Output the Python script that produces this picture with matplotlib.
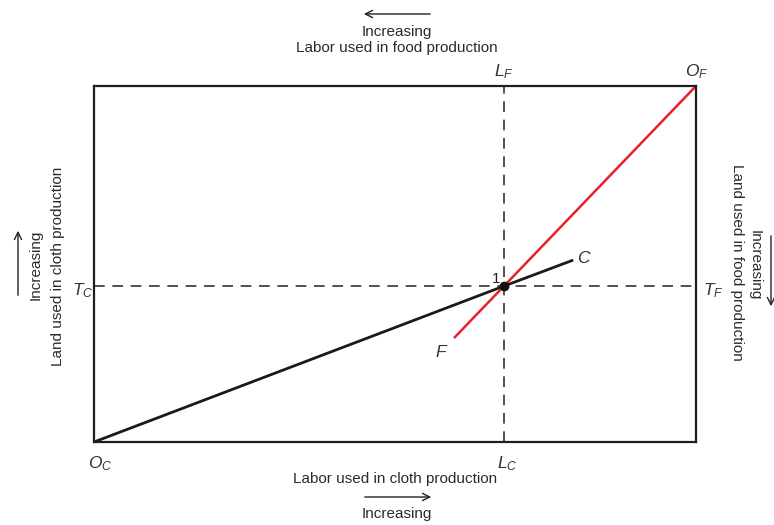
import matplotlib
matplotlib.use("Agg")
import matplotlib.pyplot as plt

plt.rcParams['font.family'] = ['Liberation Sans', 'DejaVu Sans']
plt.rcParams['mathtext.fontset'] = 'custom'
plt.rcParams['mathtext.it'] = 'Liberation Sans:italic'
plt.rcParams['mathtext.rm'] = 'Liberation Sans'

# box is unit square: labor on x, land on y (cloth origin bottom-left)
point_1 = (0.681, 0.438)
cloth_x = [0.0, 0.681, 0.796]
cloth_y = [0.0, 0.438, 0.511]
food_x = [0.598, 0.681, 1.0]
food_y = [0.292, 0.438, 1.0]

fig = plt.figure(figsize=(7.74, 5.25), dpi=100)
W, H = 774, 525
ax = fig.add_axes([94 / W, (525 - 442) / H, 602 / W, 356 / H])
ax.set_xlim(0, 1)
ax.set_ylim(0, 1)
ax.set_xticks([])
ax.set_yticks([])
for s in ax.spines.values():
    s.set_linewidth(1.6)
    s.set_color('#1e1e1e')

# pixel -> data helpers for annotation placement
def px(x):
    return (x - 94) / 602
def py(y):
    return (442 - y) / 356

dash = dict(color='#222222', lw=1.1, dashes=(7, 5))
ax.plot([point_1[0], point_1[0]], [0, 1], **dash)
ax.plot([0, 1], [point_1[1], point_1[1]], **dash)

ax.plot(cloth_x, cloth_y, color='#1a1a1a', lw=2, solid_capstyle='butt')
ax.plot(food_x, food_y, color='#e8202a', lw=1.8, solid_capstyle='butt')
ax.plot(*point_1, 'o', color='#111111', ms=6)

kw = dict(clip_on=False, fontsize=12.5, color='#333333')
ax.text(px(496), py(279), '1', ha='center', va='center', clip_on=False, fontsize=11, color='#222222')
ax.text(px(584), py(258), '$C$', ha='center', va='center', **kw)
ax.text(px(442), py(352), '$F$', ha='center', va='center', **kw)
ax.text(px(504), py(72), '$L_F$', ha='center', va='center', **kw)
ax.text(px(697), py(72), '$O_F$', ha='center', va='center', **kw)
ax.text(px(100), py(464), '$O_C$', ha='center', va='center', **kw)
ax.text(px(507), py(464), '$L_C$', ha='center', va='center', **kw)
ax.text(px(83), py(291), '$T_C$', ha='center', va='center', **kw)
ax.text(px(713), py(291), '$T_F$', ha='center', va='center', **kw)

tk = dict(clip_on=False, fontsize=11, color='#2a2a2a', ha='center', va='center')
arr = dict(arrowstyle='->', color='#222222', lw=1.0, mutation_scale=13)

# top
ax.annotate('', xy=(px(361), py(14)), xytext=(px(433), py(14)), arrowprops=arr, annotation_clip=False)
ax.text(px(397), py(32), 'Increasing', **tk)
ax.text(px(397), py(48), 'Labor used in food production', **tk)

# bottom
ax.text(px(395), py(479), 'Labor used in cloth production', **tk)
ax.annotate('', xy=(px(434), py(497)), xytext=(px(362), py(497)), arrowprops=arr, annotation_clip=False)
ax.text(px(397), py(514), 'Increasing', **tk)

# left
ax.annotate('', xy=(px(18), py(228)), xytext=(px(18), py(298)), arrowprops=arr, annotation_clip=False)
ax.text(px(36), py(265), 'Increasing', rotation=90, **tk)
ax.text(px(58), py(266), 'Land used in cloth production', rotation=90, **tk)

# right
ax.text(px(737), py(262), 'Land used in food production', rotation=-90, **tk)
ax.text(px(755), py(265), 'Increasing', rotation=-90, **tk)
ax.annotate('', xy=(px(771), py(309)), xytext=(px(771), py(233)), arrowprops=arr, annotation_clip=False)

fig.savefig('out.png', dpi=100)
